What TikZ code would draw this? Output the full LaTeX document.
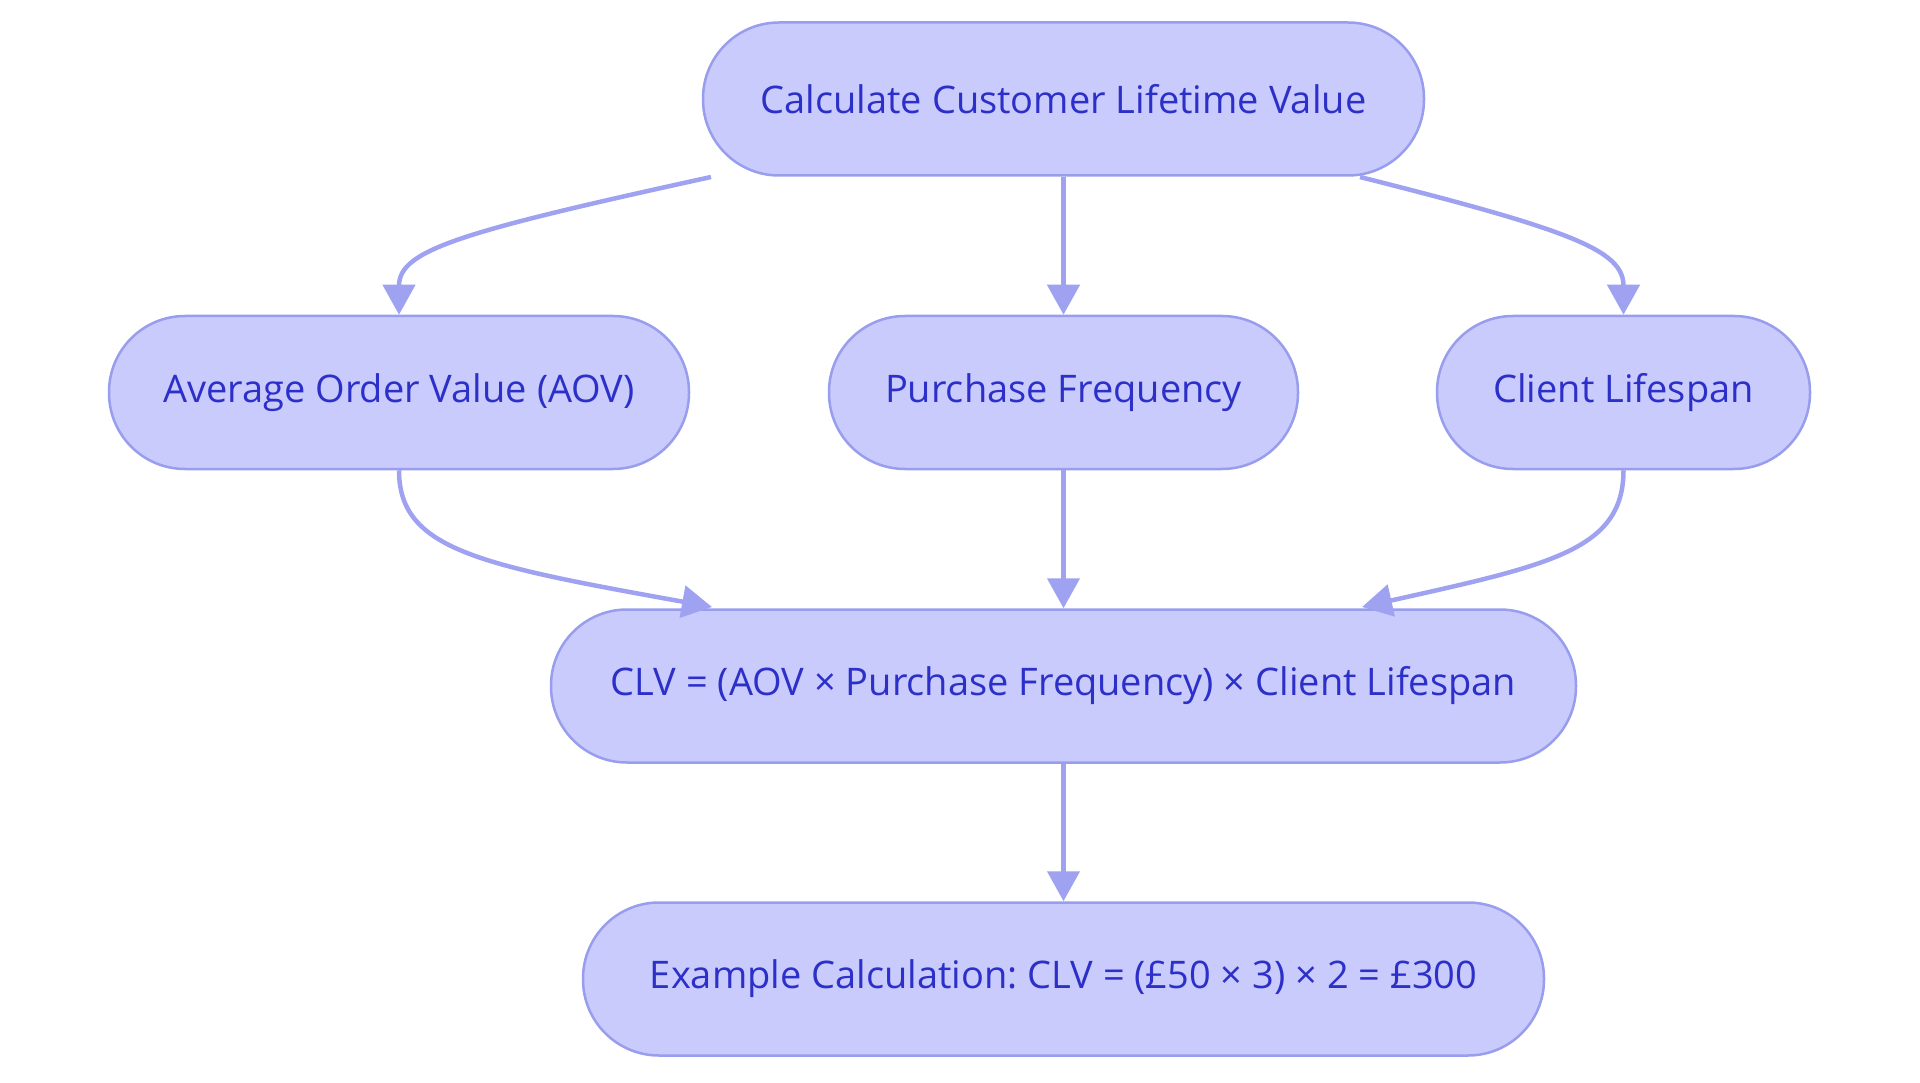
\documentclass[tikz,border=0pt]{standalone}
\usepackage{fontspec}
\setmainfont{Open Sans}
\frenchspacing
\usetikzlibrary{arrows.meta}
\definecolor{nodefill}{RGB}{201,203,252}
\definecolor{nodestroke}{RGB}{152,157,238}
\definecolor{edgecol}{RGB}{158,162,240}
\definecolor{txtcol}{RGB}{45,48,200}
\begin{document}
\begin{tikzpicture}[x=1pt,y=-1pt,
  box/.style={draw=nodestroke,fill=nodefill,line width=2.5pt,rounded corners=76pt,
    minimum height=153pt,inner sep=0pt,text=txtcol,font=\fontsize{38}{46}\selectfont},
  conn/.style={draw=edgecol,line width=4.5pt,-{Triangle[length=30pt,width=32pt]}}]
\useasboundingbox (0,0) rectangle (1920,1083);
\node[box,minimum width=721pt] (top) at (1063.5,99) {Calculate Customer Lifetime Value};
\node[box,minimum width=580pt] (aov) at (399,392.5) {Average Order Value (AOV)};
\node[box,minimum width=469pt] (pf) at (1063.5,392.5) {Purchase Frequency};
\node[box,minimum width=373pt] (cl) at (1623.5,392.5) {Client Lifespan};
\node[box,minimum width=1025pt] (clv) at (1063.5,686) {CLV = (AOV × Purchase Frequency) × Client Lifespan};
\node[box,minimum width=961pt] (ex) at (1063.5,979) {Example Calculation: CLV = (£50 × 3) × 2 = £300};
\coordinate (t1) at (711,177);
\coordinate (t2) at (1360,177);
\coordinate (c1) at (712,607);
\coordinate (c2) at (1362,607);
\draw[conn] (t1) .. controls (460,232) and (399,250) .. (aov.north);
\draw[conn] (top.south) -- (pf.north);
\draw[conn] (t2) .. controls (1570,230) and (1623.5,250) .. (cl.north);
\draw[conn] (aov.south) .. controls (399,550) and (480,565) .. (c1);
\draw[conn] (pf.south) -- (clv.north);
\draw[conn] (cl.south) .. controls (1623.5,550) and (1550,565) .. (c2);
\draw[conn] (clv.south) -- (ex.north);
\end{tikzpicture}
\end{document}
